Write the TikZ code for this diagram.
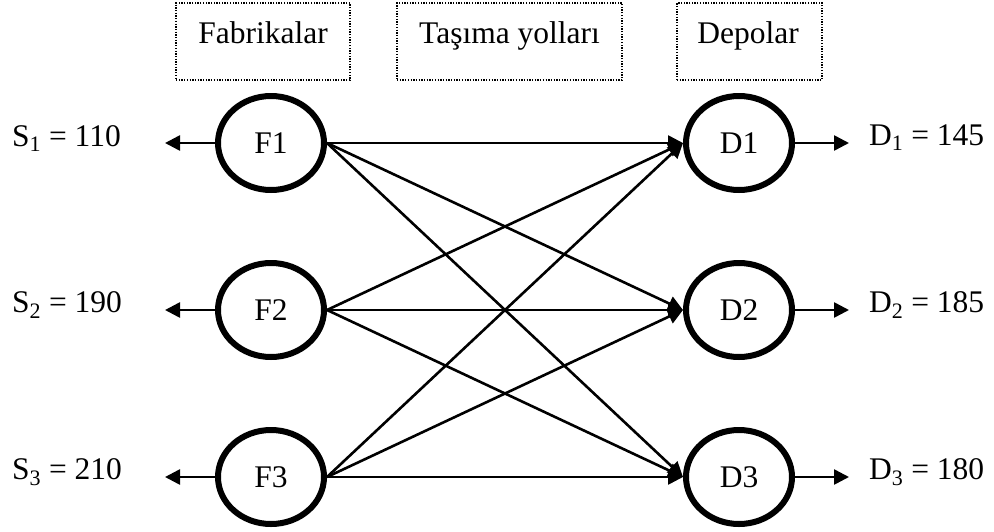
\documentclass[tikz,border=0pt]{standalone}
\usepackage{fontspec}
\setmainfont{Liberation Serif}
\usetikzlibrary{shapes.geometric,arrows.meta}
\begin{document}
\begin{tikzpicture}[x=1pt,y=-1pt,
  every node/.style={font=\fontsize{31.5}{36}\selectfont},
  hub/.style={ellipse,draw,line width=6pt,minimum width=106pt,minimum height=94pt,inner sep=0pt},
  head/.style={draw,line width=1.3pt,dash pattern=on 1.3pt off 1.4pt,inner sep=0pt},
  flow/.style={line width=2.6pt,-{Triangle[length=15pt,width=15pt]}},
  lab/.style={anchor=base west,inner sep=0pt}]
\useasboundingbox (0,0) rectangle (994,531);
% header boxes
\node[head,minimum width=174pt,minimum height=77pt] (hf) at (263,41.5) {};
\node[head,minimum width=225pt,minimum height=77pt] (ht) at (509.5,41.5) {};
\node[head,minimum width=145pt,minimum height=77pt] (hd) at (749.5,41.5) {};
\node[anchor=base,inner sep=0pt] (tf) at (263,43) {Fabrikalar};
\node[anchor=base,inner sep=0pt] (tt) at (509.5,43) {Taşıma yolları};
\node[anchor=base,inner sep=0pt] (td) at (748,43) {Depolar};
% nodes
\node[hub] (F1) at (271,143) {F1};
\node[hub] (F2) at (271,310) {F2};
\node[hub] (F3) at (271,477) {F3};
\node[hub] (D1) at (739,143) {D1};
\node[hub] (D2) at (739,310) {D2};
\node[hub] (D3) at (739,477) {D3};
% labels
\node[lab] (s1) at (12,146) {S\textsubscript{1} = 110};
\node[lab] (s2) at (12,312) {S\textsubscript{2} = 190};
\node[lab] (s3) at (12,479) {S\textsubscript{3} = 210};
\node[lab] (d1) at (869,145) {D\textsubscript{1} = 145};
\node[lab] (d2) at (869,312) {D\textsubscript{2} = 185};
\node[lab] (d3) at (869,479) {D\textsubscript{3} = 180};
% free ends
\coordinate (a1) at (165,143);
\coordinate (a2) at (165,310);
\coordinate (a3) at (165,477);
\coordinate (b1) at (849,143);
\coordinate (b2) at (849,310);
\coordinate (b3) at (849,477);
\foreach \i in {1,2,3}{
  \draw[flow] (F\i.west) -- (a\i);
  \draw[flow] (D\i.east) -- (b\i);
  \foreach \j in {1,2,3}{
    \draw[flow] (F\i.east) -- (D\j.west);
  }
}
\end{tikzpicture}
\end{document}
